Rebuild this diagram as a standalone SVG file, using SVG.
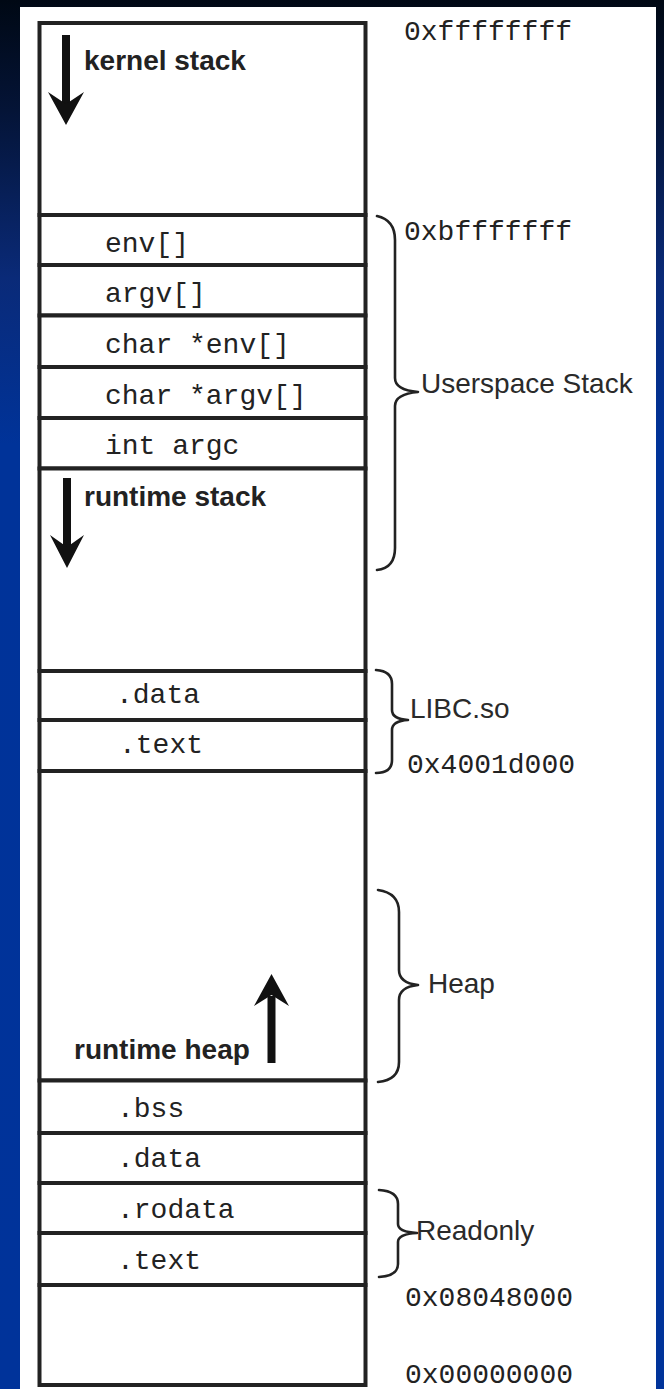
<svg xmlns="http://www.w3.org/2000/svg" width="664" height="1389" viewBox="0 0 664 1389">
<defs>
<linearGradient id="bg" x1="0" y1="0" x2="0" y2="1389" gradientUnits="userSpaceOnUse">
<stop offset="0" stop-color="#000814"/>
<stop offset="0.08" stop-color="#041437"/>
<stop offset="0.2" stop-color="#0a2a78"/>
<stop offset="0.32" stop-color="#003399"/>
<stop offset="1" stop-color="#00339a"/>
</linearGradient>
<style>
.seg{fill:#ffffff;stroke:#222222;stroke-width:4}
.mono{font-family:"Liberation Mono","Courier New",monospace;font-size:28px;fill:#222222}
.sansb{font-family:"Liberation Sans",Arial,sans-serif;font-size:28px;font-weight:bold;fill:#222222}
.sans{font-family:"Liberation Sans",Arial,sans-serif;font-size:28px;fill:#2a2a2a}
.brace{fill:none;stroke:#222222;stroke-width:2.6;stroke-linejoin:round;stroke-linecap:round}
.shaft{stroke:#111111;stroke-width:8}
.head{fill:#111111}
</style>
</defs>
<rect x="0" y="0" width="664" height="1389" fill="url(#bg)"/>
<rect x="20" y="7" width="636" height="1382" fill="#ffffff"/>

<g id="kernel-stack">
<rect class="seg" x="39.5" y="23" width="326" height="192"/>
<text class="sansb" x="84" y="70">kernel stack</text>
</g>
<g id="env-array">
<rect class="seg" x="39.5" y="215" width="326" height="50"/>
<text class="mono" x="105" y="252">env[]</text>
</g>
<g id="argv-array">
<rect class="seg" x="39.5" y="265" width="326" height="50.5"/>
<text class="mono" x="105" y="302">argv[]</text>
</g>
<g id="char-env">
<rect class="seg" x="39.5" y="315.5" width="326" height="51.5"/>
<text class="mono" x="105" y="353">char *env[]</text>
</g>
<g id="char-argv">
<rect class="seg" x="39.5" y="367" width="326" height="51"/>
<text class="mono" x="105" y="404">char *argv[]</text>
</g>
<g id="int-argc">
<rect class="seg" x="39.5" y="418" width="326" height="50.5"/>
<text class="mono" x="105" y="454">int argc</text>
</g>
<g id="runtime-stack">
<rect class="seg" x="39.5" y="468.5" width="326" height="202.5"/>
<text class="sansb" x="84" y="506">runtime stack</text>
</g>
<g id="libc-data">
<rect class="seg" x="39.5" y="671" width="326" height="49"/>
<text class="mono" x="116" y="703">.data</text>
</g>
<g id="libc-text">
<rect class="seg" x="39.5" y="720" width="326" height="51"/>
<text class="mono" x="119" y="753">.text</text>
</g>
<g id="runtime-heap">
<rect class="seg" x="39.5" y="771" width="326" height="309.5"/>
<text class="sansb" x="74" y="1059">runtime heap</text>
</g>
<g id="bss">
<rect class="seg" x="39.5" y="1080.5" width="326" height="52.5"/>
<text class="mono" x="117" y="1117">.bss</text>
</g>
<g id="data">
<rect class="seg" x="39.5" y="1133" width="326" height="50"/>
<text class="mono" x="117" y="1167">.data</text>
</g>
<g id="rodata">
<rect class="seg" x="39.5" y="1183" width="326" height="50"/>
<text class="mono" x="117" y="1218">.rodata</text>
</g>
<g id="text">
<rect class="seg" x="39.5" y="1233" width="326" height="52"/>
<text class="mono" x="117" y="1269">.text</text>
</g>
<g id="bottom">
<rect class="seg" x="39.5" y="1285" width="326" height="100"/>
</g>

<g id="addresses">
<text class="mono" x="404" y="40">0xffffffff</text>
<text class="mono" x="404" y="240">0xbfffffff</text>
<text class="mono" x="407" y="773">0x4001d000</text>
<text class="mono" x="405" y="1306">0x08048000</text>
<text class="mono" x="405" y="1383">0x00000000</text>
</g>

<g id="connectors">
<g id="arrows">
<line class="shaft" x1="66" y1="35" x2="66" y2="104"/>
<polygon class="head" points="48,92 66,104 84,92 66,125"/>
<line class="shaft" x1="67" y1="478" x2="67" y2="547"/>
<polygon class="head" points="50,535 67,547 84,535 67,568"/>
<line class="shaft" x1="271.5" y1="1063" x2="271.5" y2="996"/>
<polygon class="head" points="254,1006 271.5,995 289,1006 271.5,974"/>
</g>
<g id="braces">
<path class="brace" d="M377,216 Q395,220 395,240 L395,378 Q395,390 418,392 Q395,394 395,406 L395,548 Q395,568 377,570"/>
<path class="brace" d="M376,670 Q392,671 392,684 L392,710 Q392,719 408,720 Q392,721 392,730 L392,760 Q392,773 376,773"/>
<path class="brace" d="M378,890 Q399,893 399,912 L399,970 Q399,983 418,985 Q399,987 399,1000 L399,1062 Q399,1080 378,1082"/>
<path class="brace" d="M379,1190 Q398,1191 398,1204 L398,1224 Q398,1232 417,1233 Q398,1234 398,1242 L398,1264 Q398,1276 379,1277"/>
</g>
</g>

<g id="brace-labels">
<text class="sans" x="421" y="393">Userspace Stack</text>
<text class="sans" x="410" y="718">LIBC.so</text>
<text class="sans" x="428" y="993">Heap</text>
<text class="sans" x="416" y="1240">Readonly</text>
</g>
</svg>
